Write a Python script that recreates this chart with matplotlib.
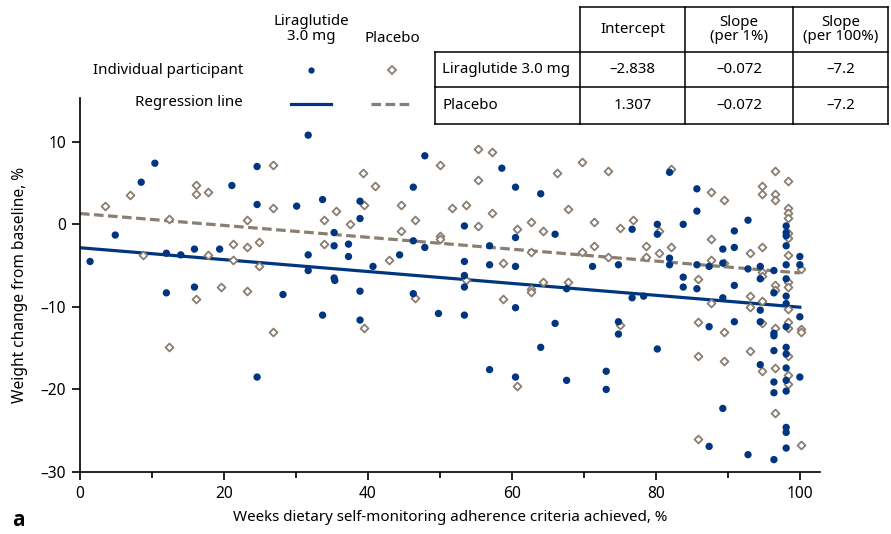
import matplotlib
matplotlib.use("Agg")
import matplotlib.pyplot as plt
from matplotlib.lines import Line2D
from matplotlib.ticker import MultipleLocator
import numpy as np

plt.rcParams['font.family'] = ['Noto Sans', 'DejaVu Sans']

# ---------------- data ----------------
lira_x = [1.4, 4.9, 8.5, 10.4, 12.0, 12.0, 14.0, 15.9, 15.9, 19.4, 21.1, 24.6, 24.6, 24.6,
          28.2, 30.1, 31.7, 31.7, 31.7, 33.7, 33.7, 35.3, 35.3, 35.3, 35.4, 37.3, 37.3,
          38.9, 38.9, 38.9, 38.9, 40.7, 44.4, 46.3, 46.3, 46.3, 47.9, 47.9, 49.8,
          53.4, 53.4, 53.4, 53.4, 53.4, 56.9, 56.9, 56.9, 58.6, 60.5, 60.5, 60.5, 60.5, 60.5,
          64.0, 64.0, 66.0, 66.0, 67.6, 67.6, 71.2, 73.1, 73.1, 74.8, 74.8, 74.8, 76.7, 76.7,
          78.3, 80.2, 80.2, 80.2, 81.9, 81.9, 81.9, 83.8, 83.8, 83.8, 85.7, 85.7, 85.7, 85.7,
          87.4, 87.4, 87.4, 89.3, 89.3, 89.3, 89.3, 90.9, 90.9, 90.9, 90.9, 92.8, 92.8, 92.8,
          94.5, 94.5, 94.5, 94.5, 94.5, 96.4, 96.4, 96.4, 96.4, 96.4, 96.4, 96.4, 96.4,
          98.1, 98.1, 98.1, 98.1, 98.1, 98.1, 98.1, 98.1, 98.1, 98.1, 98.1, 98.1, 98.1,
          98.1, 98.1, 98.1, 98.1, 100.0, 100.0, 100.0, 100.0]
lira_y = [-4.5, -1.3, 5.1, 7.4, -3.5, -8.3, -3.7, -3.0, -7.6, -3.0, 4.7, 7.0, 2.4, -18.5,
          -8.5, 2.2, 10.8, -3.7, -5.6, 3.0, -11.0, -1.0, -2.6, -6.5, -6.8, -2.4, -3.9,
          2.8, 0.7, -8.1, -11.6, -5.1, -3.7, 4.5, -2.0, -8.4, 8.3, -2.8, -10.8,
          -0.2, -4.5, -6.2, -7.6, -11.0, -2.6, -4.9, -17.6, 6.8, 4.5, -1.6, -5.1, -10.1, -18.5,
          3.7, -14.9, -1.2, -12.0, -7.8, -18.9, -5.1, -17.8, -20.0, -4.9, -11.8, -13.3, -0.6, -8.9,
          -8.7, 0.0, -1.2, -15.1, 6.3, -4.1, -4.9, 0.0, -6.4, -7.6, 4.3, 1.6, -4.9, -7.8,
          -5.1, -12.4, -26.9, -3.0, -4.7, -8.9, -22.3, -0.8, -2.8, -7.4, -11.8, 0.5, -5.4, -27.9,
          -5.1, -6.6, -10.4, -11.8, -17.0, -5.6, -8.3, -13.2, -13.5, -15.3, -19.1, -20.4, -28.5,
          -0.2, -1.4, -2.6, -4.9, -6.6, -8.7, -9.6, -12.4, -14.9, -15.7, -17.4, -18.9, -20.2,
          -24.6, -25.2, -27.1, -1.0, -3.9, -4.9, -11.2, -18.5]

plac_x = [3.5, 7.0, 8.7, 12.3, 12.3, 16.1, 16.1, 16.1, 17.8, 17.8, 19.6, 21.3, 21.3, 23.2,
          23.2, 23.2, 24.9, 24.9, 26.8, 26.8, 26.8, 33.9, 33.9, 35.6, 37.5, 39.3, 39.4, 39.4,
          41.0, 42.9, 44.6, 44.6, 46.5, 46.5, 50.0, 50.0, 50.0, 51.7, 53.6, 53.6, 55.3, 55.3,
          55.3, 57.2, 57.2, 58.8, 58.8, 60.7, 60.7, 62.6, 62.6, 62.6, 62.6, 64.3, 64.3, 66.2,
          67.8, 67.8, 69.8, 69.8, 71.4, 71.4, 73.3, 73.3, 75.0, 75.0, 76.8, 78.6, 78.6, 80.5,
          80.5, 82.1, 82.1, 85.9, 85.9, 85.9, 85.9, 87.6, 87.6, 87.6, 87.6, 89.5, 89.5, 89.5,
          89.5, 93.1, 93.1, 93.1, 93.1, 94.7, 94.7, 94.7, 94.7, 94.7, 94.7, 94.7, 94.7,
          96.6, 96.6, 96.6, 96.6, 96.6, 96.6, 96.6, 96.6, 98.3, 98.3, 98.3, 98.3, 98.3, 98.3,
          98.3, 98.3, 98.3, 98.3, 98.3, 98.3, 98.3, 98.3, 98.3, 100.2, 100.2, 100.2, 100.2]
plac_y = [2.2, 3.5, -3.7, 0.7, -14.9, 4.8, 3.7, -9.1, 3.9, -3.7, -7.6, -2.4, -4.3, 0.5,
          -2.8, -8.1, -2.2, -5.1, 7.2, 2.0, -13.1, 0.5, -2.4, 1.6, 0.0, 6.2, 2.4, -12.6,
          4.7, -4.3, 2.4, -0.8, 0.5, -8.9, 7.2, -1.4, -1.8, 2.0, 2.4, -6.8, 9.1, 5.4,
          -0.2, 8.7, 1.4, -4.7, -9.1, -0.6, -19.6, 0.3, -3.3, -7.8, -8.2, -0.8, -7.0, 6.2,
          1.8, -7.0, 7.6, -3.3, 0.3, -2.6, 6.4, -3.9, -0.4, -12.2, 0.5, -2.6, -3.9, -0.8,
          -3.5, 6.7, -2.8, -6.6, -11.8, -16.0, -26.0, 3.9, -1.8, -4.3, -9.5, 3.0, -4.7, -13.0,
          -16.6, -3.5, -8.7, -10.0, -15.3, 4.7, 3.7, -2.8, -5.8, -6.2, -9.3, -12.0, -17.8,
          6.4, 3.7, 3.0, -7.4, -8.0, -12.6, -17.4, -22.9, 5.2, 2.0, 1.4, 0.8, -1.1, -1.6,
          -3.7, -7.0, -7.6, -10.2, -11.8, -12.6, -16.0, -18.3, -19.3, -5.4, -12.7, -13.1, -26.7]

groups = ["Liraglutide 3.0 mg", "Placebo"]
intercepts = [-2.838, 1.307]
slope_per1 = [-0.072, -0.072]
slope_per100 = [-7.2, -7.2]
table_cols = ["Intercept", "Slope\n(per 1%)", "Slope\n(per 100%)"]
x_ticks = [0, 20, 40, 60, 80, 100]
y_ticks = [-30, -20, -10, 0, 10]

BLUE = "#00367f"
GRAY = "#8a7e72"
FS = 10.8

def fmt(v, d):
    s = f"{abs(v):.{d}f}"
    return ("\u2013" + s) if v < 0 else s

# ---------------- figure ----------------
W, H = 891, 534
fig = plt.figure(figsize=(W / 100, H / 100), dpi=100)

def fx(px):
    return px / W

def fy(py):
    return 1 - py / H

ax = fig.add_axes([fx(80), fy(472), fx(820) - fx(80), fy(98) - fy(472)])
ax.set_xlim(0, 102.8)
ax.set_ylim(-30, 15.3)
for s in ["top", "right"]:
    ax.spines[s].set_visible(False)
for s in ["left", "bottom"]:
    ax.spines[s].set_linewidth(1.2)
ax.set_xticks(x_ticks)
ax.set_yticks(y_ticks)
ax.set_yticklabels([fmt(v, 0) for v in y_ticks])
ax.xaxis.set_minor_locator(MultipleLocator(10))
ax.tick_params(axis='both', which='major', length=6, width=1.2, labelsize=11.2, pad=4)
ax.tick_params(axis='x', which='minor', length=4, width=1.2)

# regression lines
xr = np.array([0, 100])
ax.plot(xr, intercepts[1] + slope_per1[1] * xr, color=GRAY, lw=2.3,
        dashes=(3.0, 1.4), zorder=2)
ax.plot(xr, intercepts[0] + slope_per1[0] * xr, color=BLUE, lw=2.3, zorder=2)

ax.scatter(plac_x, plac_y, marker='D', s=16, facecolors='white', edgecolors=GRAY,
           linewidths=1.3, zorder=3)
ax.scatter(lira_x, lira_y, marker='o', s=28, color=BLUE, edgecolors='none', zorder=4)

ax.set_xlabel("Weeks dietary self-monitoring adherence criteria achieved, %",
              fontsize=10.9, labelpad=6)
ax.set_ylabel("Weight change from baseline, %", fontsize=11.2, labelpad=9)

fig.text(fx(12), fy(521), "a", fontsize=15, fontweight='bold', va='center', ha='left',
         family=['Open Sans', 'DejaVu Sans'])

# ---------------- legend ----------------
fig.text(fx(311), fy(29), "Liraglutide\n3.0 mg", ha='center', va='center',
         fontsize=FS, linespacing=1.0)
fig.text(fx(392), fy(38), "Placebo", ha='center', va='center', fontsize=FS)
fig.text(fx(243), fy(70), "Individual participant", ha='right', va='center', fontsize=FS)
fig.text(fx(243), fy(103), "Regression line", ha='right', va='center', fontsize=FS)
fig.add_artist(Line2D([fx(311)], [fy(70)], marker='o', ms=4.5, color=BLUE, mec='none',
                      transform=fig.transFigure))
fig.add_artist(Line2D([fx(392)], [fy(70)], marker='D', ms=4, mfc='white', mec=GRAY,
                      mew=1.3, transform=fig.transFigure))
fig.add_artist(Line2D([fx(291), fx(331)], [fy(104), fy(104)], color=BLUE, lw=2.3,
                      transform=fig.transFigure))
fig.add_artist(Line2D([fx(371), fx(409)], [fy(104), fy(104)], color=GRAY, lw=2.3,
                      dashes=(3.0, 1.4), transform=fig.transFigure))

# ---------------- table ----------------
col_x = [435, 580, 685, 793, 888]
row_y = [7, 52, 87, 124]
lw = 1.1
def hline(x0, x1, y):
    fig.add_artist(Line2D([fx(x0), fx(x1)], [fy(y), fy(y)], color='black', lw=lw,
                          transform=fig.transFigure))
def vline(x, y0, y1):
    fig.add_artist(Line2D([fx(x), fx(x)], [fy(y0), fy(y1)], color='black', lw=lw,
                          transform=fig.transFigure))
hline(col_x[1], col_x[4], row_y[0])
hline(col_x[0], col_x[4], row_y[1])
hline(col_x[0], col_x[4], row_y[2])
hline(col_x[0], col_x[4], row_y[3])
vline(col_x[0], row_y[1], row_y[3])
for c in col_x[1:]:
    vline(c, row_y[0], row_y[3])

for j, lab in enumerate(table_cols):
    cx = (col_x[j + 1] + col_x[j + 2]) / 2
    fig.text(fx(cx), fy((row_y[0] + row_y[1]) / 2), lab, ha='center', va='center',
             fontsize=FS, linespacing=1.0)
for i, g in enumerate(groups):
    cy = (row_y[i + 1] + row_y[i + 2]) / 2
    fig.text(fx(col_x[0] + 7), fy(cy), g, ha='left', va='center', fontsize=FS)
    vals = [fmt(intercepts[i], 3), fmt(slope_per1[i], 3), fmt(slope_per100[i], 1)]
    for j, v in enumerate(vals):
        cx = (col_x[j + 1] + col_x[j + 2]) / 2
        fig.text(fx(cx), fy(cy), v, ha='center', va='center', fontsize=FS)

fig.savefig("out.png", dpi=100)
